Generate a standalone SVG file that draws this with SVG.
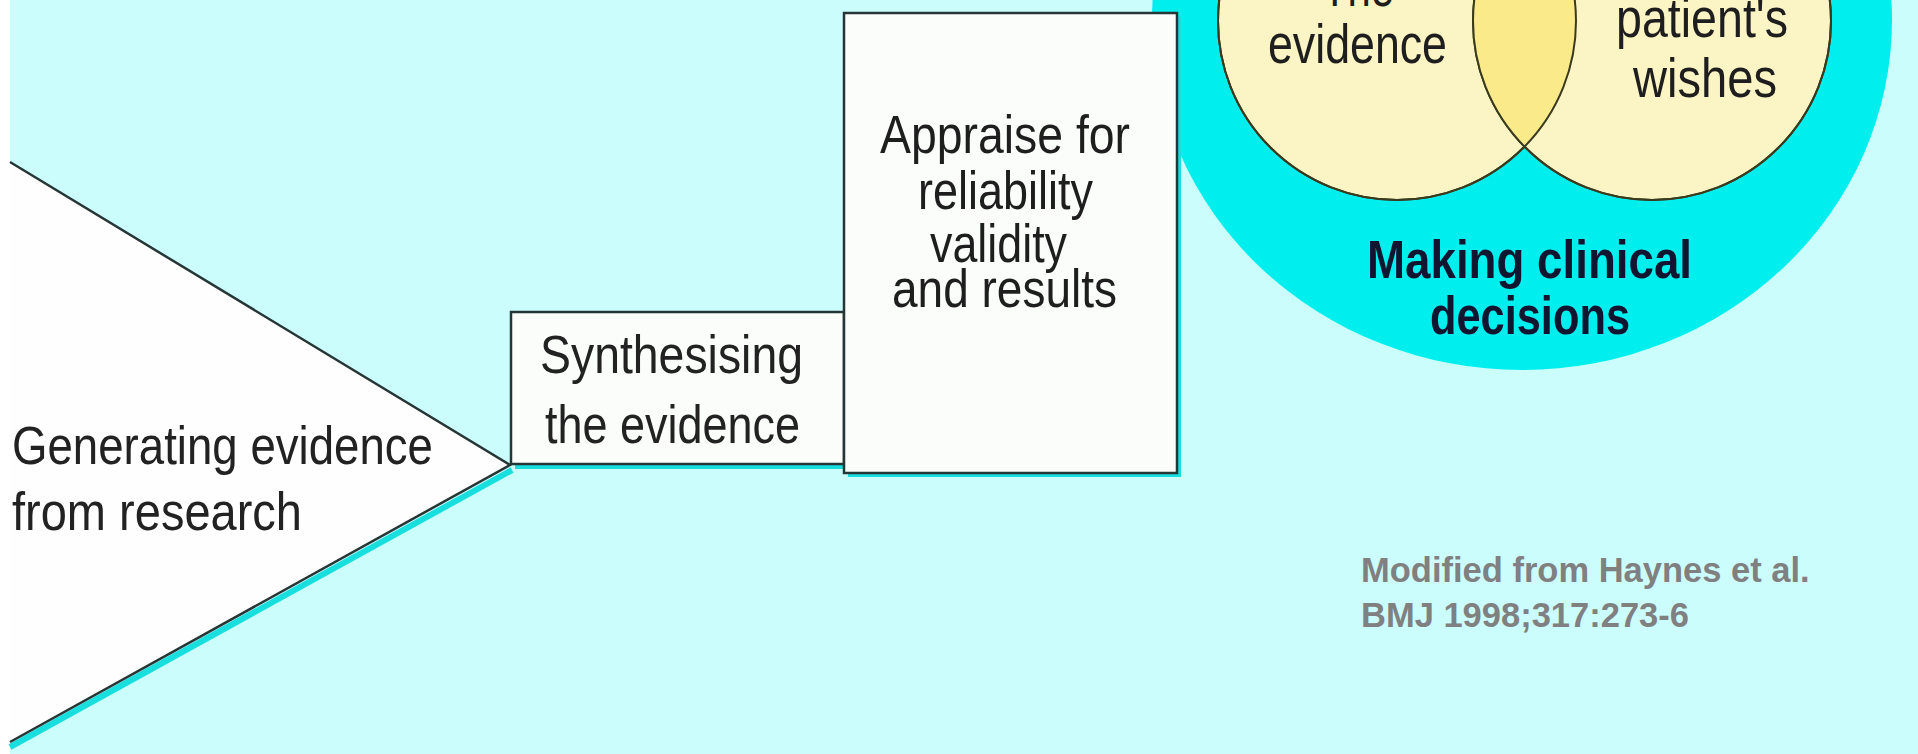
<svg xmlns="http://www.w3.org/2000/svg" width="1918" height="754" viewBox="0 0 1918 754">
  <style>
    .lbl { font-family: "Liberation Sans", Arial, sans-serif; font-size: 53px; fill: #222222; }
    .lbl2 { font-family: "Liberation Sans", Arial, sans-serif; font-size: 55px; fill: #1e1e1e; }
    .lbl3 { font-family: "Liberation Sans", Arial, sans-serif; font-size: 53px; fill: #1e1e1e; }
    .bold { font-family: "Liberation Sans", Arial, sans-serif; font-size: 54px; font-weight: bold; fill: #121530; }
    .note { font-family: "Liberation Sans", Arial, sans-serif; font-size: 34.5px; font-weight: bold; fill: #808080; }
    .box { fill: #fbfdfb; stroke: #263636; stroke-width: 2.5; }
    .shadow { fill: #19dede; }
    .ring { fill: #fbf4c4; stroke: #3a3a1e; stroke-width: 2; }
  </style>
  <defs>
    <clipPath id="leftClip"><circle cx="1397" cy="21" r="179"/></clipPath>
  </defs>
  <rect x="0" y="0" width="1918" height="754" fill="#ccfdfd"/>
  <rect x="0" y="0" width="10" height="754" fill="#ffffff"/>

  <g id="generating">
    <line x1="10" y1="747" x2="512" y2="470" stroke="#19dede" stroke-width="6"/>
    <polygon points="10,162 510,465 10,742" fill="#fdfefd"/>
    <polyline points="10,162 510,465 10,742" fill="none" stroke="#263636" stroke-width="2.5"/>
    <text class="lbl" x="12" y="464" textLength="421" lengthAdjust="spacingAndGlyphs">Generating evidence</text>
    <text class="lbl" x="12" y="530" textLength="290" lengthAdjust="spacingAndGlyphs">from research</text>
  </g>

  <g id="decisions">
    <ellipse cx="1522" cy="20" rx="370" ry="350" fill="#00eeee"/>
    <circle class="ring" cx="1397" cy="21" r="179"/>
    <circle class="ring" cx="1652" cy="21" r="179"/>
    <circle cx="1652" cy="21" r="179" fill="#fbea8a" clip-path="url(#leftClip)"/>
    <circle cx="1397" cy="21" r="179" fill="none" stroke="#3a3a1e" stroke-width="2"/>
    <circle cx="1652" cy="21" r="179" fill="none" stroke="#3a3a1e" stroke-width="2"/>
    <text class="lbl2" x="1322" y="6" textLength="72" lengthAdjust="spacingAndGlyphs">The</text>
    <text class="lbl2" x="1268" y="63" textLength="179" lengthAdjust="spacingAndGlyphs">evidence</text>
    <text class="lbl2" x="1616" y="37" textLength="172" lengthAdjust="spacingAndGlyphs">patient's</text>
    <text class="lbl2" x="1633" y="97" textLength="144" lengthAdjust="spacingAndGlyphs">wishes</text>
    <text class="bold" x="1367" y="278" textLength="325" lengthAdjust="spacingAndGlyphs">Making clinical</text>
    <text class="bold" x="1430" y="334" textLength="200" lengthAdjust="spacingAndGlyphs">decisions</text>
  </g>

  <g id="synthesising">
    <rect class="shadow" x="515" y="316" width="333" height="153"/>
    <rect class="box" x="511" y="312" width="333" height="152"/>
    <text class="lbl" x="540" y="373" textLength="263" lengthAdjust="spacingAndGlyphs">Synthesising</text>
    <text class="lbl" x="545" y="443" textLength="255" lengthAdjust="spacingAndGlyphs">the evidence</text>
  </g>

  <g id="appraise">
    <rect class="shadow" x="848" y="17" width="333" height="460"/>
    <rect class="box" x="844" y="13" width="333" height="460"/>
    <text class="lbl3" x="880" y="153" textLength="250" lengthAdjust="spacingAndGlyphs">Appraise for</text>
    <text class="lbl3" x="918" y="209" textLength="175" lengthAdjust="spacingAndGlyphs">reliability</text>
    <text class="lbl3" x="930" y="262" textLength="137" lengthAdjust="spacingAndGlyphs">validity</text>
    <text class="lbl3" x="892" y="307" textLength="225" lengthAdjust="spacingAndGlyphs">and results</text>
  </g>

  <g id="connectors"></g>

  <g id="source">
    <text class="note" x="1361" y="582">Modified from Haynes et al.</text>
    <text class="note" x="1361" y="627">BMJ 1998;317:273-6</text>
  </g>
</svg>
